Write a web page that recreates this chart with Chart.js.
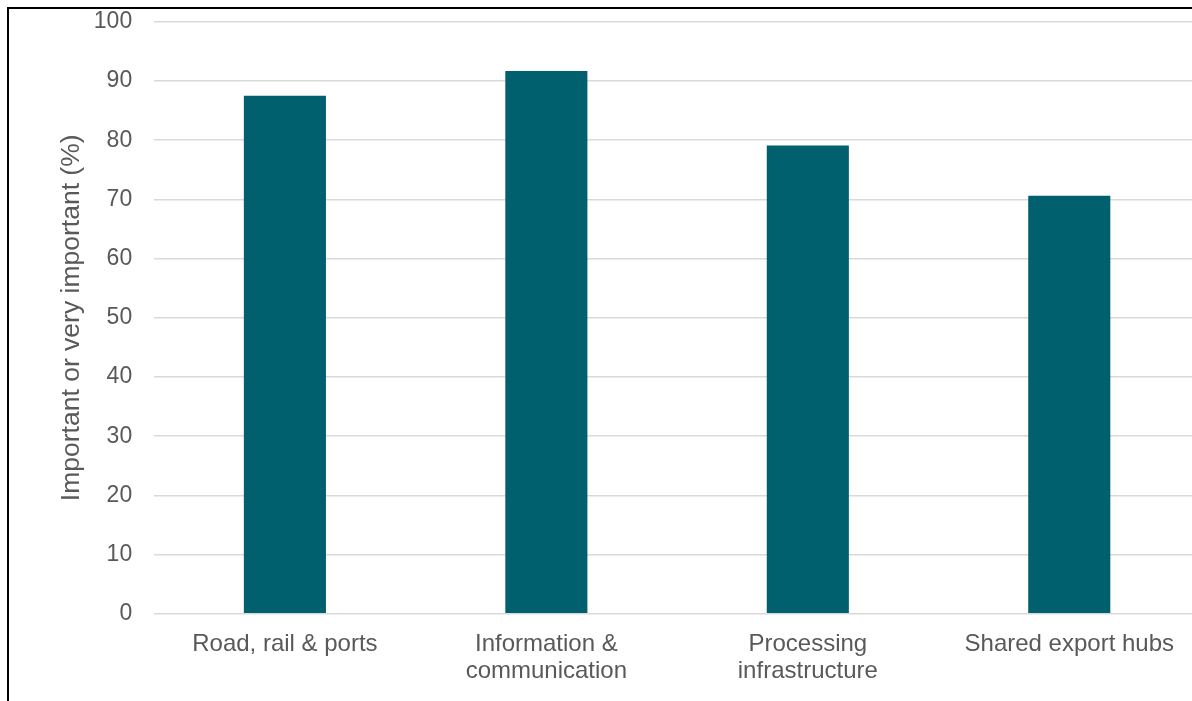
<!DOCTYPE html>
<html>
<head>
<meta charset="utf-8">
<script src="https://cdn.jsdelivr.net/npm/chart.js@4"></script>
<style>
    html, body { margin: 0; padding: 0; background: #fff; overflow: hidden; }
    #frame { position: absolute; left: 7px; top: 7px; width: 1230px; height: 730px; border: 2px solid #000; }
    #chart { position: absolute; left: 9px; top: -14px; }
</style>
</head>
<body>
<div id="frame"></div>
<canvas id="chart" width="1191" height="716"></canvas>
<script>
// 数据
const categories = [
    'Road, rail & ports',
    ['Information &', 'communication'],
    ['Processing', 'infrastructure'],
    'Shared export hubs'
];
const importantPct = [87.5, 91.7, 79.1, 70.6];
const yTicks = [0, 10, 20, 30, 40, 50, 60, 70, 80, 90, 100];

const textGrey = '#595959';
const gridGrey = '#d9d9d9';
const fontFamily = 'Liberation Sans, Arial, sans-serif';

new Chart(document.getElementById('chart').getContext('2d'), {
    type: 'bar',
    data: {
        labels: categories,
        datasets: [{
            label: 'Important or very important',
            data: importantPct,
            backgroundColor: '#00606e',
            borderWidth: 0,
            categoryPercentage: 1,
            barPercentage: 0.314
        }]
    },
    options: {
        responsive: false,
        animation: false,
        layout: { padding: { top: 0, left: 47, right: 0, bottom: 0 } },
        plugins: { legend: { display: false }, tooltip: { enabled: false } },
        scales: {
            x: {
                grid: { display: false, drawTicks: false },
                border: { display: false },
                ticks: {
                    color: textGrey,
                    font: { family: fontFamily, size: 24, lineHeight: 1.13 },
                    padding: 17,
                    maxRotation: 0,
                    autoSkip: false
                }
            },
            y: {
                min: 0,
                max: 100,
                afterBuildTicks: axis => { axis.ticks = yTicks.map(v => ({ value: v })); },
                grid: { color: gridGrey, lineWidth: 1.5, drawTicks: false },
                border: { display: false },
                ticks: {
                    color: textGrey,
                    font: { family: fontFamily, size: 23 },
                    padding: 22
                },
                title: {
                    display: true,
                    text: 'Important or very important (%)',
                    color: textGrey,
                    font: { family: fontFamily, size: 26.5 },
                    padding: { top: 0, bottom: -16 }
                }
            }
        }
    }
});
</script>
</body>
</html>
